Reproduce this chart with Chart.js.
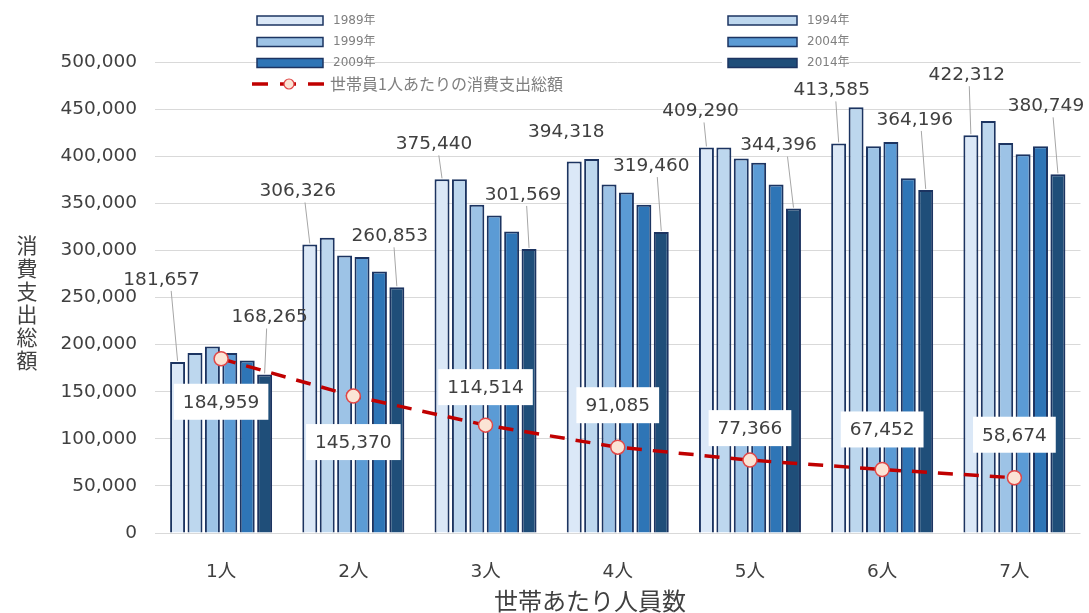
<!DOCTYPE html>
<html lang="ja">
<head>
    <meta charset="UTF-8">
    <title>世帯人員別 消費支出総額</title>
    <script src="https://cdn.jsdelivr.net/npm/chart.js"></script>
    <style>
        body { margin: 0; background: #fff; }
    </style>
</head>
<body>

<canvas id="chart" width="1089" height="613"></canvas>

<script>
    // data (bars without a printed value are estimates)
    var categories = ['1人', '2人', '3人', '4人', '5人', '6人', '7人']
    var years = ['1989年', '1994年', '1999年', '2004年', '2009年', '2014年']
    var spend1989 = [181657, 306326, 375440, 394318, 409290, 413585, 422312]
    var spend1994 = [191000, 313500, 375500, 397000, 409300, 452000, 437500]
    var spend1999 = [198000, 294500, 348500, 370000, 397500, 410500, 414000]
    var spend2004 = [191000, 293000, 337000, 361500, 393000, 415000, 402000]
    var spend2009 = [183000, 277500, 320000, 348500, 370000, 376500, 410500]
    var spend2014 = [168265, 260853, 301569, 319460, 344396, 364196, 380749]
    var perPerson = [184959, 145370, 114514, 91085, 77366, 67452, 58674]
    var lineName = '世帯員1人あたりの消費支出総額'
    var yTitle = '消費支出総額'
    var xTitle = '世帯あたり人員数'
    var yMax = 500000
    var yStep = 50000

    var barColors = ['#dbe8f7', '#bdd7ee', '#9dc3e6', '#5b9bd5', '#2e75b6', '#1f4e79']
    var lineRed = '#c00000'
    var textFont = '"DejaVu Sans", "Noto Sans CJK JP", sans-serif'
    var cjkFont = '"Noto Sans CJK JP", sans-serif'

    // label placement, pixel offsets from the top of the first / last bar of each group
    var firstBarLabel = [[-16, -82], [-12, -53], [-8, -35], [-8, -29], [-6, -36], [-7, -53], [-4, -60]]
    var lastBarLabel = [[5, -57], [-7, -51], [-6, -54], [-10, -66], [-15, -63], [-11, -70], [-12, -68]]
    var lineLabelDy = [43, 46, -38, -42, -32, -40, -43]

    var fmt = function (v) { return v.toLocaleString('en-US') }

    var seriesList = [spend1989, spend1994, spend1999, spend2004, spend2009, spend2014]
    var datasets = seriesList.map(function (s, i) {
        return {
            type: 'bar',
            label: years[i],
            data: s,
            backgroundColor: barColors[i],
            borderColor: '#1c3461',
            borderWidth: 2,
            categoryPercentage: 0.79,
            barPercentage: 0.86,
            order: 1
        }
    })
    datasets.push({
        type: 'line',
        label: lineName,
        data: perPerson,
        borderColor: lineRed,
        borderWidth: 3.5,
        borderDash: [15, 11],
        pointRadius: 7,
        pointBackgroundColor: '#fbe4d5',
        pointBorderColor: '#e04848',
        pointBorderWidth: 1.5,
        fill: false,
        order: 0
    })

    function leader(ctx, x1, y1, x2, y2) {
        ctx.beginPath()
        ctx.moveTo(x1, y1)
        ctx.lineTo(x2, y2)
        ctx.stroke()
    }

    var labelsPlugin = {
        id: 'valueLabels',
        afterDatasetsDraw: function (chart) {
            var ctx = chart.ctx
            ctx.save()
            ctx.font = '18.5px ' + textFont
            ctx.textAlign = 'center'
            ctx.textBaseline = 'middle'
            ctx.strokeStyle = '#a6a6a6'
            ctx.lineWidth = 1

            var pairs = [[0, firstBarLabel], [5, lastBarLabel]]
            pairs.forEach(function (p) {
                var meta = chart.getDatasetMeta(p[0])
                meta.data.forEach(function (bar, i) {
                    var off = p[1][i]
                    var lx = bar.x + off[0], ly = bar.y + off[1]
                    var bottom = ly + 11
                    if (bar.y - bottom > 22) {
                        leader(ctx, bar.x, bar.y - 1, bar.x + off[0] * 0.4, bottom)
                    }
                    ctx.fillStyle = '#404040'
                    ctx.fillText(fmt(chart.data.datasets[p[0]].data[i]), lx, ly)
                })
            })

            var lineMeta = chart.getDatasetMeta(6)
            lineMeta.data.forEach(function (pt, i) {
                var txt = fmt(perPerson[i])
                var w = ctx.measureText(txt).width + 18
                var lx = pt.x, ly = pt.y + lineLabelDy[i]
                ctx.fillStyle = '#ffffff'
                ctx.fillRect(lx - w / 2, ly - 18, w, 36)
                ctx.fillStyle = '#404040'
                ctx.fillText(txt, lx, ly + 1)
            })
            ctx.restore()
        },
        afterDraw: function (chart) {
            var ctx = chart.ctx
            ctx.save()

            // upright vertical y axis title
            ctx.font = '21px ' + cjkFont
            ctx.fillStyle = '#404040'
            ctx.textAlign = 'center'
            ctx.textBaseline = 'middle'
            var chars = yTitle.split('')
            var step = 23
            var y0 = 303 - (chars.length - 1) * step / 2
            chars.forEach(function (c, i) { ctx.fillText(c, 27, y0 + i * step) })

            // x axis title
            ctx.font = '24px ' + cjkFont
            ctx.fillText(xTitle, 590, 601)

            // legend, two columns laid over the top of the plot
            ctx.fillStyle = '#ffffff'
            ctx.fillRect(722, 8, 124, 66)
            var rowsY = [20.5, 42, 63]
            var cols = [{ sx: 257, sw: 66, tx: 333 }, { sx: 728, sw: 69, tx: 807 }]
            ctx.textAlign = 'left'
            ctx.font = '12px ' + textFont
            for (var k = 0; k < 6; k++) {
                var col = cols[k % 2]
                var ry = rowsY[Math.floor(k / 2)]
                ctx.fillStyle = barColors[k]
                ctx.fillRect(col.sx, ry - 4.5, col.sw, 9)
                ctx.strokeStyle = '#1c3461'
                ctx.lineWidth = 1.5
                ctx.strokeRect(col.sx, ry - 4.5, col.sw, 9)
                ctx.fillStyle = '#7f7f7f'
                ctx.fillText(chart.data.datasets[k].label, col.tx, ry)
            }
            var ly = 84
            ctx.strokeStyle = lineRed
            ctx.lineWidth = 3.5
            ctx.setLineDash([16, 12])
            leader(ctx, 252, ly, 326, ly)
            ctx.setLineDash([])
            ctx.beginPath()
            ctx.arc(289, ly, 5, 0, Math.PI * 2)
            ctx.fillStyle = '#fbe4d5'
            ctx.fill()
            ctx.strokeStyle = '#e04848'
            ctx.lineWidth = 1.2
            ctx.stroke()
            ctx.fillStyle = '#7f7f7f'
            ctx.font = '16px ' + cjkFont
            ctx.fillText(chart.data.datasets[6].label, 330, ly)
            ctx.restore()
        }
    }

    var canvas = document.getElementById('chart')
    var chart = new Chart(canvas, {
        data: { labels: categories, datasets: datasets },
        options: {
            responsive: false,
            animation: false,
            layout: { padding: { top: 62, right: 7, left: 0, bottom: 0 } },
            plugins: {
                legend: { display: false },
                tooltip: { enabled: false }
            },
            scales: {
                x: {
                    grid: { display: false, drawTicks: false },
                    border: { display: false },
                    ticks: {
                        padding: 28,
                        color: '#404040',
                        font: { family: textFont, size: 18.5 }
                    },
                    afterFit: function (s) { s.height = 80 }
                },
                y: {
                    min: 0,
                    max: yMax,
                    grid: { color: '#d9d9d9', lineWidth: 1, drawTicks: false },
                    border: { display: false },
                    ticks: {
                        stepSize: yStep,
                        padding: 18,
                        color: '#404040',
                        font: { family: textFont, size: 18.5 },
                        callback: function (v) { return fmt(v) }
                    },
                    afterFit: function (s) { s.width = 155 }
                }
            }
        },
        plugins: [labelsPlugin]
    })
</script>

</body>
</html>
